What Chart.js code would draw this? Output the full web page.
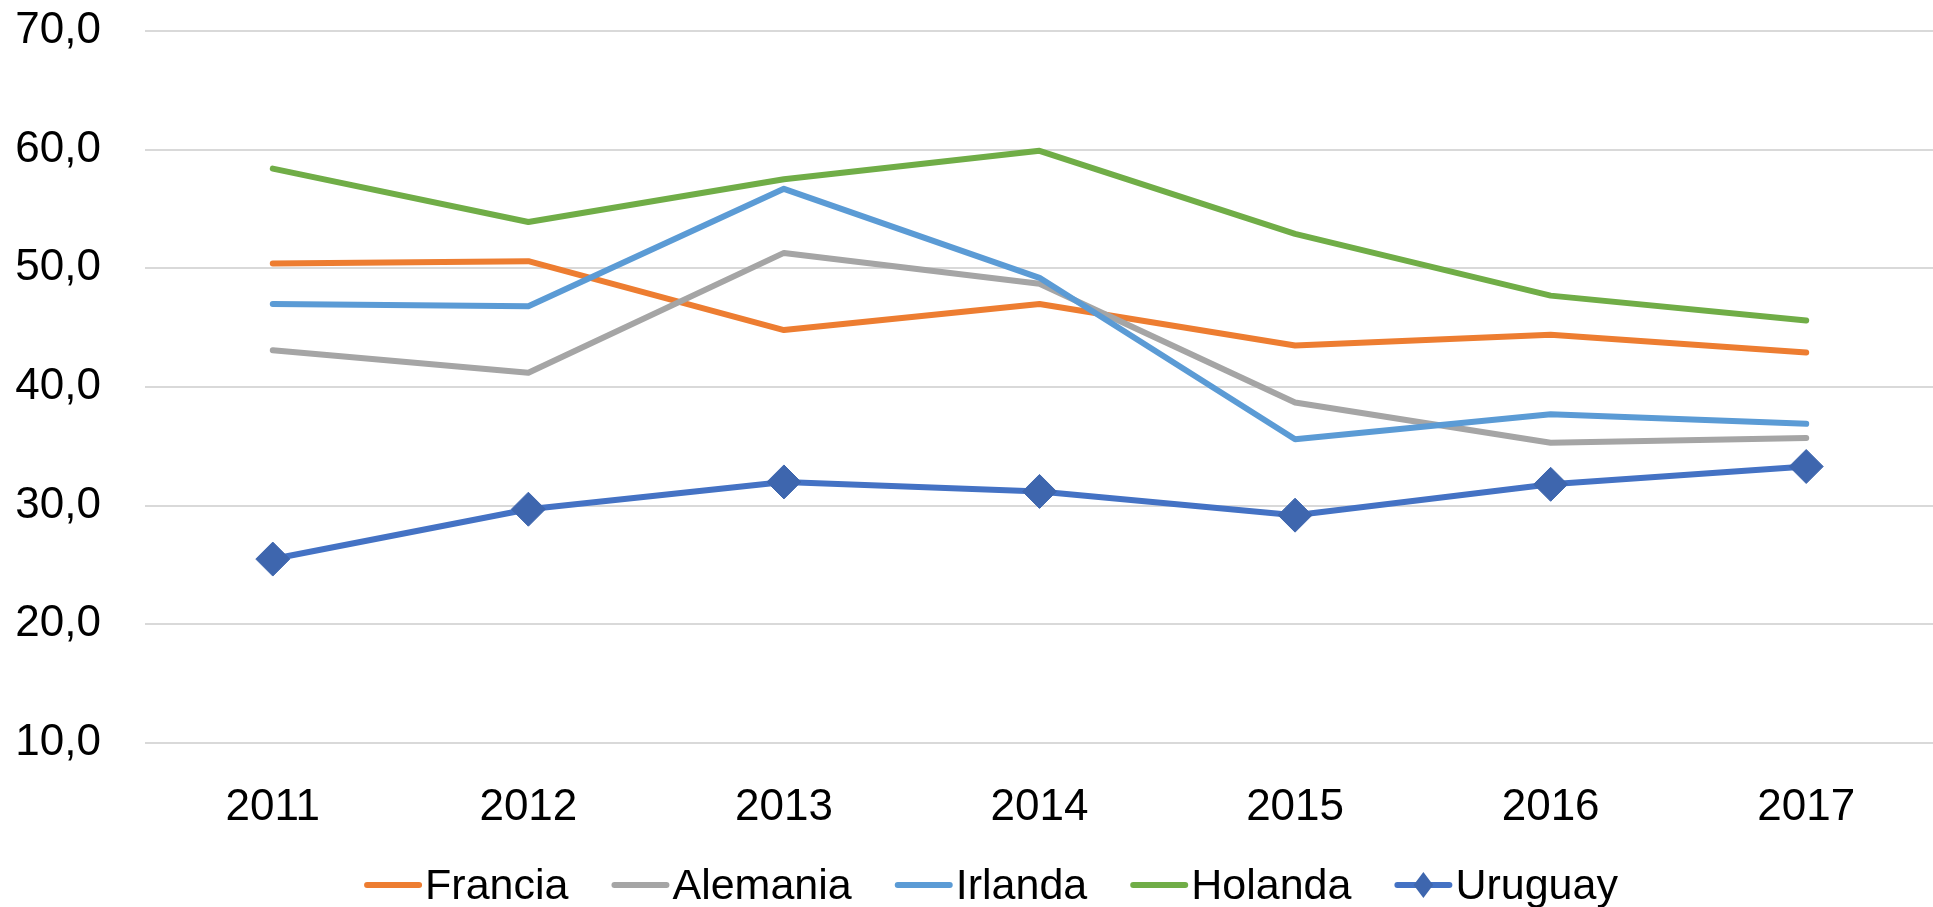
<!DOCTYPE html>
<html>
<head>
<meta charset="utf-8">
<script src="https://cdn.jsdelivr.net/npm/chart.js@4/dist/chart.umd.min.js"></script>
<style>
  html, body { margin: 0; padding: 0; background: #fff; overflow: hidden; }
  #wrap { width: 1952px; height: 907px; }
</style>
</head>
<body>
<div id="wrap"><canvas id="chart" width="1952" height="907"></canvas></div>
<script>
// data
const years = ['2011', '2012', '2013', '2014', '2015', '2016', '2017'];
const francia  = [50.4, 50.6, 44.8, 47.0, 43.5, 44.4, 42.9];
const alemania = [43.1, 41.2, 51.3, 48.7, 38.7, 35.3, 35.7];
const irlanda  = [47.0, 46.8, 56.7, 49.2, 35.6, 37.7, 36.9];
const holanda  = [58.4, 53.9, 57.5, 59.9, 52.9, 47.7, 45.6];
const uruguay  = [25.5, 29.7, 32.0, 31.2, 29.2, 31.8, 33.3];
const yTicks = [10, 20, 30, 40, 50, 60, 70];

const FONT = '"Liberation Sans", Arial, sans-serif';

function lineSet(label, color, data, order){
  return {
    label, data, order,
    borderColor: color,
    backgroundColor: color,
    borderWidth: 6,
    borderCapStyle: 'round',
    borderJoinStyle: 'round',
    pointRadius: 0,
    tension: 0,
  };
}

const uru = lineSet('Uruguay', '#4472C4', uruguay, 1);
uru.pointStyle = 'rectRot';
uru.pointRadius = 17;
uru.pointBackgroundColor = '#3E66AE';
uru.pointBorderColor = '#3E66AE';
uru.pointBorderWidth = 1;

const datasets = [
  lineSet('Francia', '#ED7D31', francia, 5),
  lineSet('Alemania', '#A5A5A5', alemania, 4),
  lineSet('Irlanda', '#5B9BD5', irlanda, 3),
  lineSet('Holanda', '#70AD47', holanda, 2),
  uru,
];

// legend drawn by hand: line sample + text, close together like the original
const bottomLegend = {
  id: 'bottomLegend',
  afterDraw(chart){
    const ctx = chart.ctx;
    const y = 885, sample = 58, gapText = 3, gapItem = 43;
    ctx.save();
    ctx.font = '43px ' + FONT;
    const widths = chart.data.datasets.map(d => ctx.measureText(d.label).width);
    let total = widths.reduce((a, w) => a + sample + gapText + w, 0) + gapItem * (widths.length - 1);
    let x = 991 - total / 2;
    chart.data.datasets.forEach((d, i) => {
      ctx.strokeStyle = d.borderColor;
      ctx.lineWidth = 6;
      ctx.lineCap = 'round';
      ctx.beginPath();
      ctx.moveTo(x + 3, y);
      ctx.lineTo(x + sample - 3, y);
      ctx.stroke();
      if (d.pointStyle === 'rectRot') {
        const cx = x + sample / 2, r = 13;
        ctx.fillStyle = d.pointBackgroundColor;
        ctx.beginPath();
        ctx.moveTo(cx - r * 0.75, y);
        ctx.lineTo(cx, y - r);
        ctx.lineTo(cx + r * 0.75, y);
        ctx.lineTo(cx, y + r);
        ctx.closePath();
        ctx.fill();
      }
      ctx.fillStyle = '#000';
      ctx.textBaseline = 'middle';
      ctx.textAlign = 'left';
      ctx.fillText(d.label, x + sample + gapText, y + 2);
      x += sample + gapText + widths[i] + gapItem;
    });
    ctx.restore();
  }
};

new Chart(document.getElementById('chart'), {
  type: 'line',
  data: { labels: years, datasets },
  plugins: [bottomLegend],
  options: {
    responsive: false,
    animation: false,
    devicePixelRatio: 1,
    layout: { padding: { top: 31, right: 0, bottom: 0, left: 0 } },
    plugins: { legend: { display: false }, tooltip: { enabled: false } },
    scales: {
      x: {
        offset: true,
        grid: { display: false, drawTicks: false },
        border: { display: false },
        ticks: { color: '#000', font: { family: FONT, size: 44 }, padding: 38, maxRotation: 0 },
        afterFit(scale){ scale.height = 164; }
      },
      y: {
        min: 10, max: 70,
        afterBuildTicks(scale){ scale.ticks = yTicks.map(v => ({ value: v })); },
        grid: { color: '#D9D9D9', lineWidth: 2, drawTicks: false },
        border: { display: false },
        ticks: {
          color: '#000',
          font: { family: FONT, size: 44 },
          padding: 44,
          callback: v => v.toFixed(1).replace('.', ',')
        },
        afterFit(scale){
          scale.width = 145;
          scale.paddingTop = 0;
          scale.paddingBottom = 0;
        }
      }
    }
  }
});
</script>
</body>
</html>
